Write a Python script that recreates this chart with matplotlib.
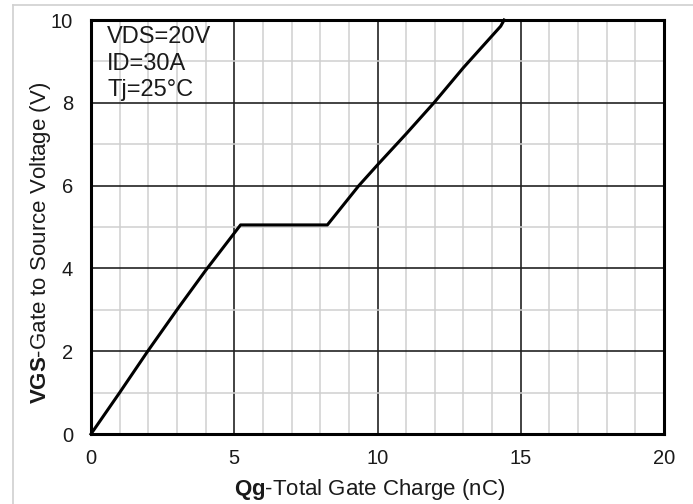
import matplotlib.pyplot as plt
from matplotlib.lines import Line2D
from matplotlib.ticker import MultipleLocator

plt.rcParams['font.family'] = ['Liberation Sans', 'DejaVu Sans']
plt.rcParams['mathtext.fontset'] = 'custom'
plt.rcParams['mathtext.rm'] = 'Liberation Sans'
plt.rcParams['mathtext.bf'] = 'Liberation Sans:bold'

# gate charge curve (nC, V)
qg = [0.0, 1.0, 2.0, 3.0, 4.0, 5.22, 8.25, 9.35, 10.0, 11.0, 11.97, 13.0, 14.3, 14.42]
vgs = [0.0, 1.0, 2.02, 3.0, 3.95, 5.05, 5.05, 6.0, 6.5, 7.25, 8.0, 8.85, 9.85, 10.0]

conditions = ['VDS=20V', 'ID=30A', 'Tj=25°C']

W, H = 693, 504
fig = plt.figure(figsize=(W / 100, H / 100), dpi=100)
fig.patch.set_facecolor('white')

# light frame round the chart area (left and top edges visible)
fig.add_artist(Line2D([13 / W, 13 / W], [0, 1 - 5 / H], color='#d0d0d0', lw=1.2))
fig.add_artist(Line2D([13 / W, 1], [1 - 5 / H, 1 - 5 / H], color='#d0d0d0', lw=1.2))

ax = fig.add_axes([91 / W, 1 - 434 / H, (664 - 91) / W, (434 - 20) / H])
ax.set_xlim(0, 20)
ax.set_ylim(0, 10)
ax.xaxis.set_major_locator(MultipleLocator(5))
ax.xaxis.set_minor_locator(MultipleLocator(1))
ax.yaxis.set_major_locator(MultipleLocator(2))
ax.yaxis.set_minor_locator(MultipleLocator(1))

ax.grid(which='minor', color='#cfcfcf', lw=1.1)
ax.grid(which='major', color='#222222', lw=1.2)
ax.set_axisbelow(True)
for s in ax.spines.values():
    s.set_linewidth(2.2)
    s.set_color('black')
ax.tick_params(which='both', length=0)
ax.tick_params(axis='x', pad=11, labelsize=14.5, colors='#1a1a1a')
ax.tick_params(axis='y', pad=13, labelsize=14.5, colors='#1a1a1a')

ax.plot(qg, vgs, color='black', lw=2.2, solid_joinstyle='round', clip_on=False, zorder=3)

for i, t in enumerate(conditions):
    ax.text(107 / W, 1 - (37 + 26.5 * i) / H, t, transform=fig.transFigure,
            ha='left', va='center', fontsize=17, color='#1a1a1a')

fig.text(370 / W, 1 - 490 / H, r'$\mathbf{Qg}$-Total Gate Charge (nC)',
         ha='center', va='center', fontsize=16, color='#1a1a1a')
fig.text(41 / W, 1 - 243 / H, r'$\mathbf{VGS}$-Gate to Source Voltage (V)',
         ha='center', va='center', rotation=90, fontsize=16, color='#1a1a1a')

fig.savefig('out.png', dpi=100, facecolor='white')
